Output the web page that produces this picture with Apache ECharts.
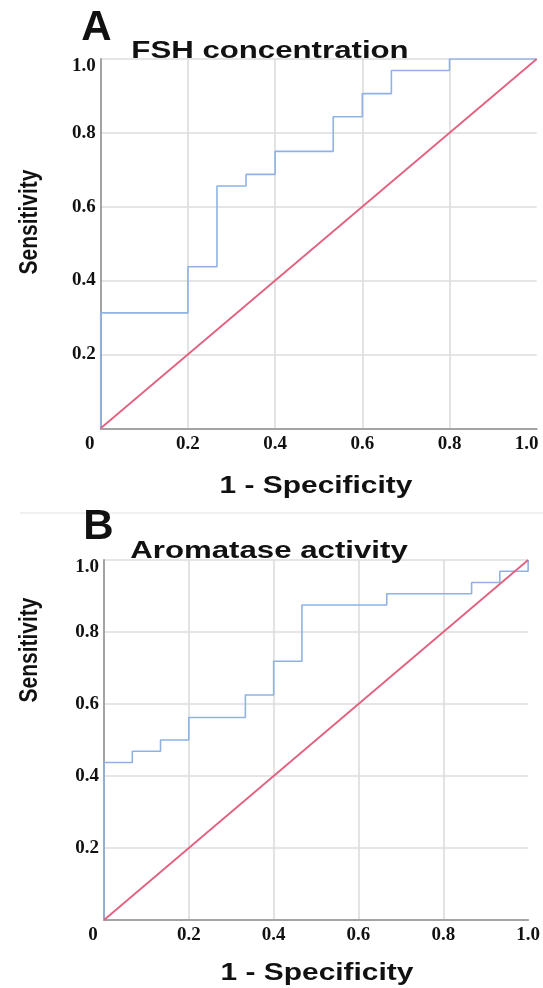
<!DOCTYPE html>
<html><head><meta charset="utf-8">
<script src="https://cdn.jsdelivr.net/npm/echarts@6/dist/echarts.min.js"></script>
<style>html,body{margin:0;padding:0;background:#fff}#c{width:543px;height:988px}</style>
</head><body><div id="c"></div>
<script>
// ---- data ----
const xTickLabels = ['0', '0.2', '0.4', '0.6', '0.8', '1.0'];
const yTickLabels = ['0', '0.2', '0.4', '0.6', '0.8', '1.0'];
const panelLetters = ['A', 'B'];
const panelTitles = ['FSH concentration', 'Aromatase activity'];
const xName = '1 - Specificity';
const yName = 'Sensitivity';

// ROC curve A (FSH concentration): 1 - specificity, sensitivity
const fshFpr = [0, 0, 0.2, 0.2, 0.2667, 0.2667, 0.3333, 0.3333, 0.4, 0.4, 0.5333, 0.5333, 0.6, 0.6, 0.6667, 0.6667, 0.8, 0.8, 1.0];
const fshTpr = [0, 0.3125, 0.3125, 0.4375, 0.4375, 0.65625, 0.65625, 0.6875, 0.6875, 0.75, 0.75, 0.84375, 0.84375, 0.90625, 0.90625, 0.96875, 0.96875, 1.0, 1.0];

// ROC curve B (Aromatase activity)
const aroFpr = [0, 0, 0.0667, 0.0667, 0.1333, 0.1333, 0.2, 0.2, 0.3333, 0.3333, 0.4, 0.4, 0.4667, 0.4667, 0.6667, 0.6667, 0.8667, 0.8667, 0.9333, 0.9333, 1.0, 1.0];
const aroTpr = [0, 0.4375, 0.4375, 0.46875, 0.46875, 0.5, 0.5, 0.5625, 0.5625, 0.625, 0.625, 0.71875, 0.71875, 0.875, 0.875, 0.90625, 0.90625, 0.9375, 0.9375, 0.96875, 0.96875, 1.0];

// reference diagonal
const refFpr = [0, 1];
const refTpr = [0, 1];

// ---- styles ----
const BLUE = '#8fb2e3';
const RED = '#e2607f';
const AXIS = '#a3a3a3';
const GRIDC = '#dcdcdc';
const SERIF = '"Liberation Serif","Times New Roman",serif';
const SANS = '"Liberation Sans",Arial,sans-serif';

const grids = [
  {left: 100.7, top: 59, width: 436, height: 369.3},
  {left: 104, top: 560, width: 426, height: 360}
];

function pairs(xs, ys) { return xs.map((x, i) => [x, ys[i]]); }

function xAxisFor(gi, maxPad) {
  return {
    type: 'value', gridIndex: gi, min: 0, max: 1, interval: 0.2,
    axisLine: {show: true, onZero: false, lineStyle: {color: AXIS, width: 2}},
    axisTick: {show: false},
    splitLine: {show: true, showMaxLine: false, lineStyle: {color: GRIDC, width: 1.6}},
    axisLabel: {
      margin: 6, color: '#111', fontFamily: SERIF, fontWeight: 'bold', fontSize: 19,
      formatter: v => {
        const i = Math.round(v / 0.2);
        if (i === 0) return '{z|' + xTickLabels[i] + '}';
        if (i === 5) return '{m|' + xTickLabels[i] + '}';
        return xTickLabels[i];
      },
      rich: {
        z: {fontFamily: SERIF, fontWeight: 'bold', fontSize: 19, color: '#111', padding: [0, 22, 0, 0]},
        m: {fontFamily: SERIF, fontWeight: 'bold', fontSize: 19, color: '#111', padding: [0, maxPad, 0, 0]}
      }
    }
  };
}
function yAxisFor(gi) {
  return {
    type: 'value', gridIndex: gi, min: 0, max: 1, interval: 0.2,
    axisLine: {show: true, onZero: false, lineStyle: {color: AXIS, width: 2}},
    axisTick: {show: false},
    splitLine: {show: true, lineStyle: {color: GRIDC, width: 1.6}},
    axisLabel: {
      margin: 5, showMinLabel: false, color: '#111', fontFamily: SERIF, fontWeight: 'bold', fontSize: 19,
      formatter: v => {
        const i = Math.round(v / 0.2);
        if (i === 5) return '{t|' + yTickLabels[i] + '}';
        return yTickLabels[i];
      },
      rich: {t: {fontFamily: SERIF, fontWeight: 'bold', fontSize: 19, color: '#111', padding: [14, 0, 0, 0]}}
    }
  };
}

function bigText(txt, x, y, size, sx, extra) {
  return Object.assign({
    type: 'text', x: x, y: y, scaleX: sx, silent: true, z: 10,
    style: {text: txt, font: 'bold ' + size + 'px ' + SANS, fill: '#111', align: 'center', verticalAlign: 'middle'}
  }, extra || {});
}

const option = {
  animation: false,
  backgroundColor: '#fff',
  grid: grids,
  xAxis: [xAxisFor(0, 20), xAxisFor(1, 0)],
  yAxis: [yAxisFor(0), yAxisFor(1)],
  series: [
    {type: 'line', xAxisIndex: 0, yAxisIndex: 0, data: pairs(fshFpr, fshTpr), symbol: 'none', lineStyle: {color: BLUE, width: 1.6}, z: 3},
    {type: 'line', xAxisIndex: 0, yAxisIndex: 0, data: pairs(refFpr, refTpr), symbol: 'none', lineStyle: {color: RED, width: 1.8}, z: 4},
    {type: 'line', xAxisIndex: 1, yAxisIndex: 1, data: pairs(aroFpr, aroTpr), symbol: 'none', lineStyle: {color: BLUE, width: 1.6}, z: 3},
    {type: 'line', xAxisIndex: 1, yAxisIndex: 1, data: pairs(refFpr, refTpr), symbol: 'none', lineStyle: {color: RED, width: 1.8}, z: 4}
  ],
  graphic: [
    {type: 'line', shape: {x1: 20, y1: 513, x2: 543, y2: 513}, style: {stroke: '#ececec', lineWidth: 1.5}, silent: true},
    bigText(panelLetters[0], 96.5, 28, 42, 1.0),
    bigText(panelTitles[0], 270, 51.5, 24, 1.3),
    bigText(xName, 316, 487, 23, 1.3),
    bigText(yName, 30, 222, 21, 1, {rotation: Math.PI / 2, scaleY: 1.2}),
    bigText(panelLetters[1], 98.5, 527, 42, 1.0),
    bigText(panelTitles[1], 269, 551.5, 24, 1.3),
    bigText(xName, 317, 974, 23, 1.3),
    bigText(yName, 30, 650, 21, 1, {rotation: Math.PI / 2, scaleY: 1.2})
  ]
};

const chart = echarts.init(document.getElementById('c'), null, {renderer: 'canvas'});
chart.setOption(option);
</script>
</body></html>
